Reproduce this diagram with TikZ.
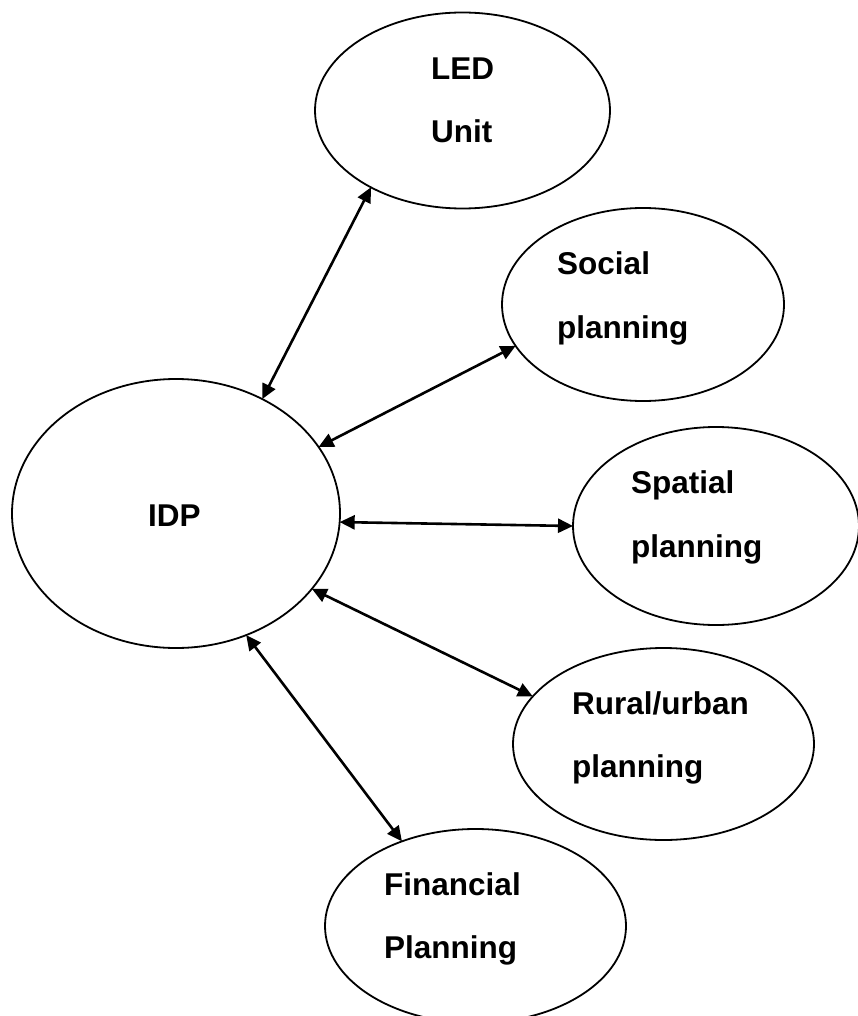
\documentclass[tikz,border=0pt]{standalone}
\usepackage{fontspec}
\setmainfont{Liberation Sans}
\usetikzlibrary{arrows.meta,shapes.geometric}
\begin{document}
\begin{tikzpicture}[x=1pt,y=-1pt,
  bubble/.style={draw,line width=1.8pt,ellipse,inner sep=0pt,outer sep=0pt},
  lbl/.style={anchor=base west,inner sep=0pt,font=\bfseries\fontsize{31.5}{38}\selectfont},
  link/.style={line width=2.6pt,{Triangle[length=15pt,width=14pt]}-{Triangle[length=15pt,width=14pt]}}]
\useasboundingbox (0,0) rectangle (858,1016);
\clip (0,0) rectangle (858,1016);
% ellipses
\node[bubble,minimum width=295pt,minimum height=196pt] (led) at (462.5,110.5) {};
\node[bubble,minimum width=282pt,minimum height=193pt] (soc) at (643,304.5) {};
\node[bubble,minimum width=286pt,minimum height=198pt] (spa) at (716,526) {};
\node[bubble,minimum width=328pt,minimum height=269pt] (idp) at (176,513.5) {};
\node[bubble,minimum width=301pt,minimum height=192pt] (rur) at (663.5,744) {};
\node[bubble,minimum width=301pt,minimum height=194pt] (fin) at (475.5,926) {};
% labels
\node[lbl] (ledA) at (431,80) {LED};
\node[lbl] (ledB) at (431,143) {Unit};
\node[lbl] (socA) at (557,274) {Social};
\node[lbl] (socB) at (557,338) {planning};
\node[lbl] (spaA) at (631,493) {Spatial};
\node[lbl] (spaB) at (631,557) {planning};
\node[lbl] (idpA) at (148,526) {IDP};
\node[lbl] (rurA) at (572,714) {Rural/urban};
\node[lbl] (rurB) at (572,777) {planning};
\node[lbl] (finA) at (384,895) {Financial};
\node[lbl] (finB) at (384,958) {Planning};
% connectors
\draw[link] (idp.53.4) -- (led.-140.9);
\draw[link] (idp.25.9) -- (soc.198.1);
\draw[link] (idp.-3.3) -- (spa.180);
\draw[link] (idp.-29.4) -- (rur.160.9);
\draw[link] (idp.-60) -- (fin.131.3);
\end{tikzpicture}
\end{document}
